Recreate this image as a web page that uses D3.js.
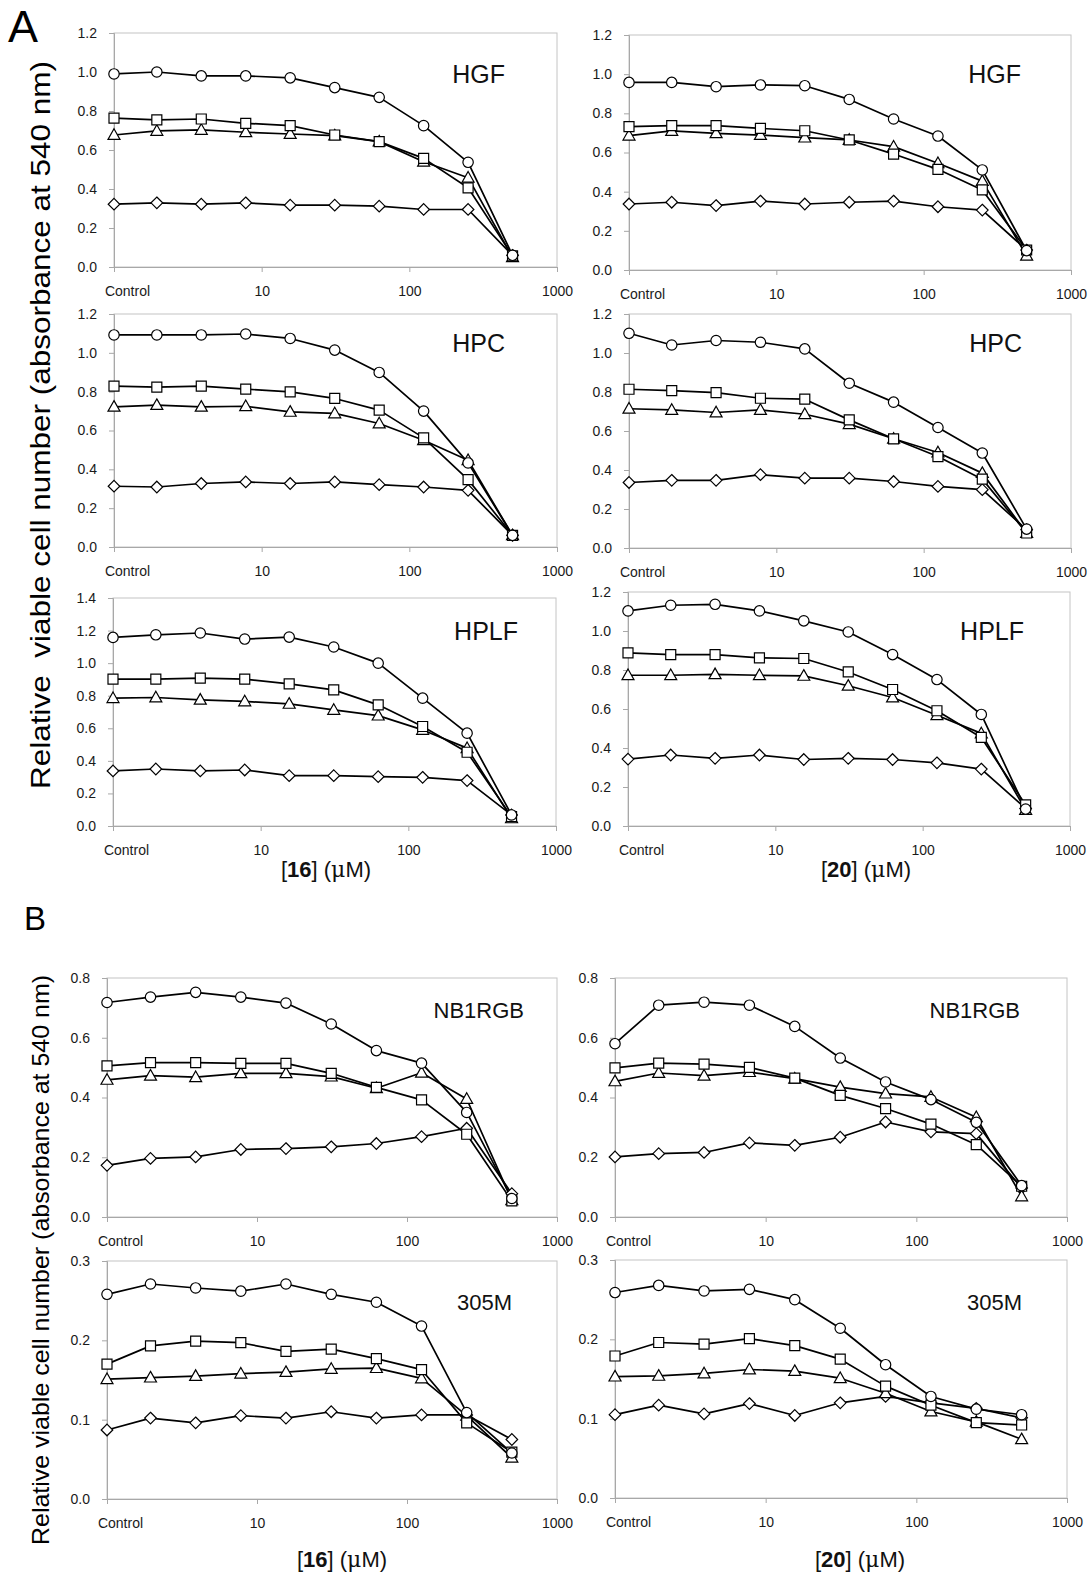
<!DOCTYPE html>
<html>
<head>
<meta charset="utf-8">
<script src="https://cdn.jsdelivr.net/npm/d3@7/dist/d3.min.js"></script>
<style>
  body { margin: 0; background: #fff; }
  svg { display: block; font-family: "Liberation Sans", Arial, sans-serif; }
</style>
</head>
<body>
<div id="chart"></div>
<script>
// doses (uM); Control is drawn at 1 on the log axis
var doses = [1, 1.95, 3.9, 7.8, 15.6, 31.25, 62.5, 125, 250, 500];
var xTicks = [1, 10, 100, 1000];
var xTickLabels = ["Control", "10", "100", "1000"];
// series order in every panel: circle, square, triangle, diamond
var shapes = ["circle", "square", "triangle", "diamond"];

var hgf16 = [
  [0.99, 1.00, 0.98, 0.98, 0.97, 0.92, 0.87, 0.725, 0.537, 0.06],
  [0.763, 0.754, 0.759, 0.737, 0.725, 0.677, 0.643, 0.557, 0.406, 0.057],
  [0.677, 0.698, 0.703, 0.691, 0.682, 0.674, 0.643, 0.54, 0.458, 0.05],
  [0.322, 0.329, 0.322, 0.329, 0.317, 0.317, 0.312, 0.295, 0.295, 0.06]
];
var hgf20 = [
  [0.958, 0.958, 0.936, 0.945, 0.941, 0.871, 0.771, 0.684, 0.511, 0.099],
  [0.732, 0.737, 0.737, 0.723, 0.711, 0.664, 0.592, 0.514, 0.409, 0.102],
  [0.686, 0.710, 0.698, 0.689, 0.676, 0.664, 0.630, 0.545, 0.454, 0.073],
  [0.337, 0.346, 0.329, 0.352, 0.337, 0.346, 0.352, 0.323, 0.306, 0.102]
];
var hpc16 = [
  [1.092, 1.092, 1.092, 1.097, 1.074, 1.014, 0.899, 0.700, 0.433, 0.060],
  [0.829, 0.823, 0.829, 0.813, 0.799, 0.765, 0.705, 0.562, 0.347, 0.060],
  [0.722, 0.731, 0.722, 0.725, 0.696, 0.688, 0.636, 0.550, 0.447, 0.060],
  [0.313, 0.309, 0.327, 0.335, 0.327, 0.335, 0.321, 0.309, 0.292, 0.060]
];
var hpc20 = [
  [1.101, 1.041, 1.064, 1.055, 1.021, 0.845, 0.748, 0.618, 0.487, 0.097],
  [0.814, 0.807, 0.797, 0.768, 0.763, 0.657, 0.560, 0.469, 0.353, 0.077],
  [0.714, 0.708, 0.695, 0.708, 0.686, 0.635, 0.560, 0.490, 0.384, 0.077],
  [0.336, 0.347, 0.347, 0.376, 0.358, 0.358, 0.341, 0.316, 0.299, 0.094]
];
var hplf16 = [
  [1.158, 1.174, 1.185, 1.148, 1.160, 1.099, 1.000, 0.785, 0.570, 0.068],
  [0.902, 0.902, 0.908, 0.902, 0.873, 0.836, 0.744, 0.611, 0.453, 0.057],
  [0.785, 0.789, 0.775, 0.765, 0.750, 0.713, 0.678, 0.590, 0.478, 0.047],
  [0.338, 0.350, 0.338, 0.344, 0.309, 0.309, 0.303, 0.299, 0.279, 0.068]
];
var hplf20 = [
  [1.103, 1.132, 1.137, 1.103, 1.052, 0.995, 0.879, 0.751, 0.572, 0.087],
  [0.888, 0.879, 0.879, 0.862, 0.859, 0.790, 0.700, 0.591, 0.454, 0.108],
  [0.773, 0.773, 0.778, 0.773, 0.770, 0.719, 0.659, 0.568, 0.475, 0.082],
  [0.343, 0.364, 0.347, 0.364, 0.341, 0.347, 0.341, 0.324, 0.292, 0.090]
];
var nb16 = [
  [0.718, 0.736, 0.752, 0.736, 0.716, 0.646, 0.557, 0.515, 0.350, 0.062],
  [0.506, 0.517, 0.517, 0.514, 0.514, 0.481, 0.434, 0.392, 0.277, 0.054],
  [0.459, 0.473, 0.468, 0.481, 0.481, 0.470, 0.431, 0.483, 0.395, 0.056],
  [0.173, 0.196, 0.201, 0.226, 0.229, 0.235, 0.246, 0.269, 0.297, 0.078]
];
var nb20 = [
  [0.580, 0.709, 0.719, 0.709, 0.638, 0.532, 0.452, 0.393, 0.317, 0.105],
  [0.499, 0.515, 0.512, 0.501, 0.465, 0.407, 0.363, 0.311, 0.242, 0.103],
  [0.454, 0.482, 0.473, 0.485, 0.463, 0.435, 0.413, 0.402, 0.334, 0.069],
  [0.201, 0.212, 0.216, 0.248, 0.240, 0.267, 0.318, 0.285, 0.279, 0.097]
];
var m305_16 = [
  [0.258, 0.271, 0.266, 0.262, 0.271, 0.258, 0.248, 0.218, 0.109, 0.058],
  [0.170, 0.193, 0.199, 0.197, 0.186, 0.189, 0.177, 0.163, 0.096, 0.059],
  [0.151, 0.153, 0.155, 0.158, 0.160, 0.164, 0.165, 0.152, 0.105, 0.052],
  [0.087, 0.102, 0.096, 0.105, 0.102, 0.110, 0.102, 0.106, 0.106, 0.075]
];
var m305_20 = [
  [0.259, 0.268, 0.261, 0.263, 0.250, 0.214, 0.168, 0.128, 0.112, 0.105],
  [0.179, 0.196, 0.194, 0.201, 0.192, 0.175, 0.141, 0.117, 0.095, 0.092],
  [0.153, 0.154, 0.157, 0.162, 0.160, 0.151, 0.132, 0.109, 0.096, 0.074],
  [0.105, 0.117, 0.106, 0.119, 0.104, 0.120, 0.128, 0.120, 0.113, 0.101]
];

// panel layout (pixel boxes), kept apart from the data
var panels = [
  {data: hgf16,   name: "HGF",    ymax: 1.2, step: 0.2, x0: 114, x1: 557,  y0: 33,   y1: 267,  nameX: 505,  nameY: 83,   nameSize: 25},
  {data: hgf20,   name: "HGF",    ymax: 1.2, step: 0.2, x0: 629, x1: 1071, y0: 35,   y1: 270,  nameX: 1021, nameY: 83,   nameSize: 25},
  {data: hpc16,   name: "HPC",    ymax: 1.2, step: 0.2, x0: 114, x1: 557,  y0: 314,  y1: 547,  nameX: 505,  nameY: 352,  nameSize: 25},
  {data: hpc20,   name: "HPC",    ymax: 1.2, step: 0.2, x0: 629, x1: 1071, y0: 314,  y1: 548,  nameX: 1022, nameY: 352,  nameSize: 25},
  {data: hplf16,  name: "HPLF",   ymax: 1.4, step: 0.2, x0: 113, x1: 556,  y0: 598,  y1: 826,  nameX: 518,  nameY: 640,  nameSize: 25},
  {data: hplf20,  name: "HPLF",   ymax: 1.2, step: 0.2, x0: 628, x1: 1070, y0: 592,  y1: 826,  nameX: 1024, nameY: 640,  nameSize: 25},
  {data: nb16,    name: "NB1RGB", ymax: 0.8, step: 0.2, x0: 107, x1: 557,  y0: 978,  y1: 1217, nameX: 524,  nameY: 1018, nameSize: 22},
  {data: nb20,    name: "NB1RGB", ymax: 0.8, step: 0.2, x0: 615, x1: 1067, y0: 978,  y1: 1217, nameX: 1020, nameY: 1018, nameSize: 22},
  {data: m305_16, name: "305M",   ymax: 0.3, step: 0.1, x0: 107, x1: 557,  y0: 1261, y1: 1499, nameX: 512,  nameY: 1310, nameSize: 22},
  {data: m305_20, name: "305M",   ymax: 0.3, step: 0.1, x0: 615, x1: 1067, y0: 1260, y1: 1498, nameX: 1022, nameY: 1310, nameSize: 22}
];

var width = 1091, height = 1574;

var svg = d3.select("#chart").append("svg")
  .attr("width", width)
  .attr("height", height);

svg.append("rect").attr("width", width).attr("height", height).attr("fill", "#fff");

var fmt = d3.format(".1f");

// marker paths, centred on 0,0
function markerPath(shape) {
  if (shape == "circle") return d3.symbol().type(d3.symbolCircle).size(Math.PI * 5.2 * 5.2)();
  if (shape == "square") return "M-5,-5L5,-5L5,5L-5,5Z";
  if (shape == "triangle") return "M0,-6.2L6,4.4L-6,4.4Z";
  return "M0,-5.8L5.8,0L0,5.8L-5.8,0Z";
}

panels.forEach(function(p) {
  var x = d3.scaleLog().domain([1, 1000]).range([p.x0, p.x1]);
  var y = d3.scaleLinear().domain([0, p.ymax]).range([p.y1, p.y0]);
  var g = svg.append("g");

  // plot frame
  g.append("rect")
    .attr("x", p.x0).attr("y", p.y0)
    .attr("width", p.x1 - p.x0).attr("height", p.y1 - p.y0)
    .attr("fill", "none").attr("stroke", "#c4c4c4").attr("stroke-width", 1);

  var yTicks = d3.range(0, p.ymax + p.step / 2, p.step);

  // y axis
  var yAxis = g.append("g")
    .attr("transform", "translate(" + p.x0 + ",0)")
    .call(d3.axisLeft(y).tickValues(yTicks).tickFormat(fmt).tickSize(5).tickPadding(12));
  // x axis
  var xAxis = g.append("g")
    .attr("transform", "translate(0," + p.y1 + ")")
    .call(d3.axisBottom(x).tickValues(xTicks).tickFormat(function(d, i) { return xTickLabels[i]; })
      .tickSize(5).tickPadding(14));

  [yAxis, xAxis].forEach(function(a) {
    a.select(".domain").attr("stroke", "#a8a8a8");
    a.selectAll(".tick line").attr("stroke", "#a8a8a8");
    a.selectAll("text").attr("fill", "#1a1a1a").attr("font-size", "14px")
      .attr("font-family", "'Liberation Sans', Arial, sans-serif");
  });
  // "Control" sits a little right of its tick
  xAxis.selectAll(".tick text").filter(function(d) { return d == 1; })
    .attr("dx", 13);

  // lines
  var line = d3.line()
    .x(function(d, i) { return x(doses[i]); })
    .y(function(d) { return y(d); });

  p.data.forEach(function(s) {
    g.append("path")
      .datum(s)
      .attr("d", line)
      .attr("fill", "none")
      .attr("stroke", "#000")
      .attr("stroke-width", 1.7)
      .attr("stroke-linejoin", "round");
  });

  // markers (diamond first so the others sit on top)
  for (var k = p.data.length - 1; k >= 0; k--) {
    g.selectAll(null)
      .data(p.data[k])
      .enter()
      .append("path")
      .attr("d", markerPath(shapes[k]))
      .attr("transform", function(d, i) { return "translate(" + x(doses[i]) + "," + y(d) + ")"; })
      .attr("fill", "#fff")
      .attr("stroke", "#000")
      .attr("stroke-width", 1.2);
  }

  // cell line name
  g.append("text")
    .attr("x", p.nameX).attr("y", p.nameY)
    .attr("text-anchor", "end")
    .attr("font-size", p.nameSize + "px")
    .attr("fill", "#111")
    .text(p.name);
});

// section letters
svg.append("text").attr("x", 8).attr("y", 42).attr("font-size", "45px").attr("fill", "#000").text("A");
svg.append("text").attr("x", 24).attr("y", 930).attr("font-size", "33px").attr("fill", "#000").text("B");

// y titles
svg.append("text")
  .attr("transform", "translate(50,425) rotate(-90)")
  .attr("text-anchor", "middle")
  .attr("font-size", "28px")
  .attr("textLength", 728).attr("lengthAdjust", "spacingAndGlyphs")
  .style("white-space", "pre")
  .text("Relative  viable cell number (absorbance at 540 nm)");

svg.append("text")
  .attr("transform", "translate(49,1260) rotate(-90)")
  .attr("text-anchor", "middle")
  .attr("font-size", "24px")
  .attr("textLength", 570).attr("lengthAdjust", "spacingAndGlyphs")
  .text("Relative viable cell number (absorbance at 540 nm)");

// x titles
var xTitles = [
  {cmp: "16", x: 326, y: 877},
  {cmp: "20", x: 866, y: 877},
  {cmp: "16", x: 342, y: 1567},
  {cmp: "20", x: 860, y: 1567}
];
xTitles.forEach(function(t) {
  var tx = svg.append("text")
    .attr("x", t.x).attr("y", t.y)
    .attr("text-anchor", "middle")
    .attr("font-size", "22px")
    .attr("fill", "#111");
  tx.append("tspan").text("[");
  tx.append("tspan").attr("font-weight", "bold").text(t.cmp);
  tx.append("tspan").text("] (");
  tx.append("tspan").attr("font-family", "'DejaVu Serif', 'Liberation Serif', serif").text("\u03bc");
  tx.append("tspan").text("M)");
});
</script>
</body>
</html>
